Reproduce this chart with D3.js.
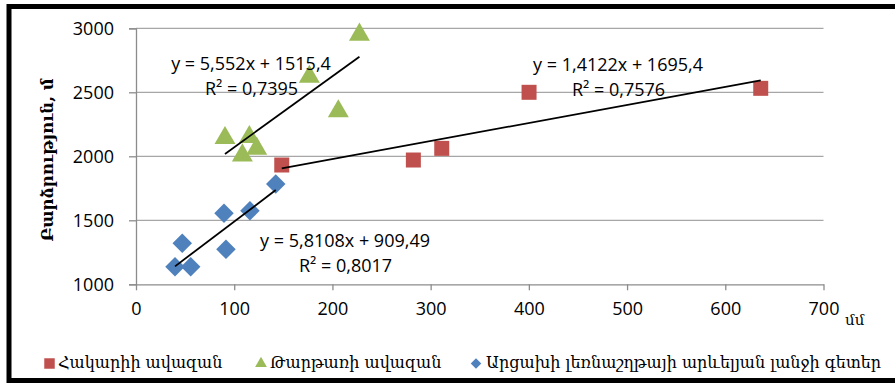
<!DOCTYPE html>
<html>
<head>
<meta charset="utf-8">
<script src="https://cdn.jsdelivr.net/npm/d3@7"></script>
<style>
  html, body { margin: 0; padding: 0; background: #fff; }
  svg { display: block; }
</style>
</head>
<body>
<svg id="chart" width="895" height="385"></svg>
<script>
// Precipitation (mm) vs. altitude (m) for three groups of basins
const hakariX = [148.4, 282.4, 311.3, 400.2, 636.1];
const hakariY = [1932, 1971, 2062, 2500, 2531];

const tartarX = [90.6, 108.3, 115.4, 122.9, 176.5, 206, 227.5];
const tartarY = [2158, 2023, 2166, 2075, 2637, 2367, 2966];

const artsakhX = [39.7, 47.1, 55.7, 89.6, 91.6, 116, 142.3];
const artsakhY = [1137, 1320, 1137, 1555, 1273, 1575, 1784];

// Linear trendlines: slope, intercept, R²
const hakariFit = [1.4122, 1695.4, 0.7576];
const tartarFit = [5.552, 1515.4, 0.7395];
const artsakhFit = [5.8108, 909.49, 0.8017];

const xTicks = [0, 100, 200, 300, 400, 500, 600, 700];
const yTicks = [1000, 1500, 2000, 2500, 3000];

const seriesNames = ["Հակարիի ավազան", "Թարթառի ավազան", "Արցախի լեռնաշղթայի արևելյան լանջի գետեր"];
const yTitle = "Բարձրություն, մ";
const xUnit = "մմ";

const svg = d3.select("#chart");
const numFont = "'Open Sans', 'Noto Sans', sans-serif";
const armFont = "'DejaVu Serif', serif";

const x = d3.scaleLinear().domain([0, 700]).range([136, 823.5]);
const y = d3.scaleLinear().domain([1000, 3000]).range([284.3, 28.3]);

// outer frame
svg.append("rect")
  .attr("x", 9).attr("y", 6.5).attr("width", 900).attr("height", 374)
  .attr("fill", "#fff").attr("stroke", "#000").attr("stroke-width", 5);

// horizontal gridlines
svg.append("g").selectAll("line").data(yTicks.filter(d => d > 1000)).join("line")
  .attr("x1", x(0)).attr("x2", x(700))
  .attr("y1", d => y(d)).attr("y2", d => y(d))
  .attr("stroke", "#a6a6a6").attr("stroke-width", 1.3);

// y axis
const yAxis = svg.append("g").attr("transform", `translate(${x(0)},0)`)
  .call(d3.axisLeft(y).tickValues(yTicks).tickSize(7).tickPadding(15).tickFormat(d3.format("d")));
yAxis.select(".domain").attr("stroke", "#8c8c8c").attr("stroke-width", 1.3);
yAxis.selectAll(".tick line").attr("stroke", "#8c8c8c").attr("stroke-width", 1.3);
yAxis.selectAll(".tick text").attr("font-family", numFont).attr("font-size", 18).attr("fill", "#000");

// x axis
const xAxis = svg.append("g").attr("transform", `translate(0,${y(1000)})`)
  .call(d3.axisBottom(x).tickValues(xTicks).tickSize(6).tickPadding(12).tickSizeOuter(0));
xAxis.select(".domain").attr("stroke", "#8c8c8c").attr("stroke-width", 1.3);
xAxis.selectAll(".tick line").attr("stroke", "#8c8c8c").attr("stroke-width", 1.3);
xAxis.selectAll(".tick text").attr("font-family", numFont).attr("font-size", 18).attr("fill", "#000");

// axis titles
svg.append("text")
  .attr("transform", `translate(53,160) rotate(-90)`)
  .attr("text-anchor", "middle")
  .attr("font-family", armFont).attr("font-weight", "bold").attr("font-size", 16.5)
  .attr("fill", "#000").text(yTitle);
svg.append("text")
  .attr("x", 845).attr("y", 325)
  .attr("font-family", armFont).attr("font-size", 15)
  .attr("fill", "#000").text(xUnit);

// trendlines over each series' x range
function trend(xs, fit) {
  const x0 = d3.min(xs), x1 = d3.max(xs);
  svg.append("line")
    .attr("x1", x(x0)).attr("y1", y(fit[0] * x0 + fit[1]))
    .attr("x2", x(x1)).attr("y2", y(fit[0] * x1 + fit[1]))
    .attr("stroke", "#000").attr("stroke-width", 1.8);
}

const red = "#c0504d", green = "#9bbb59", blue = "#4f81bd";

// markers
const sq = d3.symbol().type(d3.symbolSquare).size(225);
const tri = d3.symbol().type(d3.symbolTriangle).size(190);
const dia = d3.symbol().type(d3.symbolSquare).size(190);

svg.append("g").selectAll("path").data(d3.zip(hakariX, hakariY)).join("path")
  .attr("d", sq).attr("fill", red)
  .attr("transform", d => `translate(${x(d[0])},${y(d[1])})`);
svg.append("g").selectAll("path").data(d3.zip(tartarX, tartarY)).join("path")
  .attr("d", tri).attr("fill", green)
  .attr("transform", d => `translate(${x(d[0])},${y(d[1]) + 2})`);
svg.append("g").selectAll("path").data(d3.zip(artsakhX, artsakhY)).join("path")
  .attr("d", dia).attr("fill", blue)
  .attr("transform", d => `translate(${x(d[0])},${y(d[1])}) rotate(45)`);

trend(hakariX, hakariFit);
trend(tartarX, tartarFit);
trend(artsakhX, artsakhFit);

// trendline equations
const fmt = v => String(v).replace(".", ",");
function eqLabel(fit, cx, by) {
  const g = svg.append("g").attr("font-family", numFont).attr("font-size", 18)
    .attr("fill", "#000").attr("text-anchor", "middle");
  g.append("text").attr("x", cx).attr("y", by)
    .text(`y = ${fmt(fit[0])}x + ${fmt(fit[1])}`);
  g.append("text").attr("x", cx + 0.5).attr("y", by + 25)
    .text(`R² = ${fmt(fit[2].toFixed(4))}`);
}
eqLabel(tartarFit, 251, 70);
eqLabel(hakariFit, 618, 71);
eqLabel(artsakhFit, 345, 247);

// legend
const legend = svg.append("g").attr("font-family", armFont).attr("font-size", 16).attr("fill", "#000");
const legItems = [
  { sym: d3.symbol().type(d3.symbolSquare).size(110), color: red, x: 49.5, tx: 58, name: seriesNames[0], rot: 0 },
  { sym: d3.symbol().type(d3.symbolTriangle).size(60), color: green, x: 261, tx: 270, name: seriesNames[1], rot: 0 },
  { sym: d3.symbol().type(d3.symbolSquare).size(55), color: blue, x: 476, tx: 486, name: seriesNames[2], rot: 45 }
];
legItems.forEach(it => {
  legend.append("path").attr("d", it.sym).attr("fill", it.color)
    .attr("transform", `translate(${it.x},363.5) rotate(${it.rot})`);
  legend.append("text").attr("x", it.tx).attr("y", 368).text(it.name);
});
</script>
</body>
</html>
